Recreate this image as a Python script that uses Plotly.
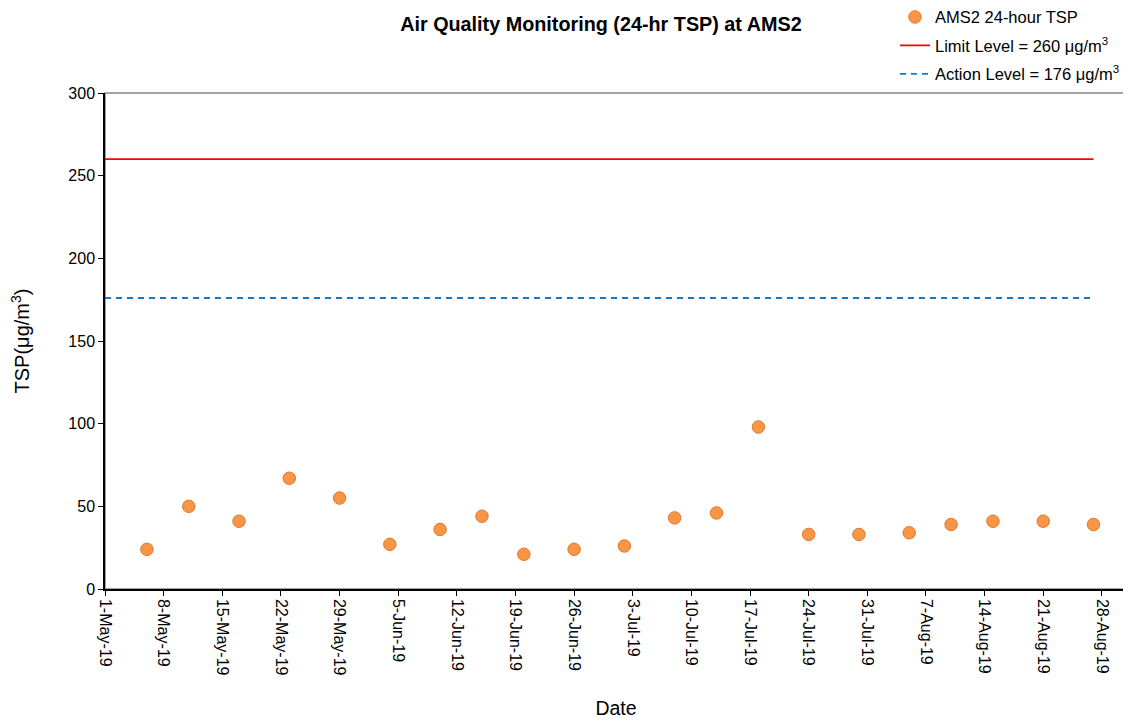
import plotly.graph_objects as go

dates = ["2019-05-06", "2019-05-11", "2019-05-17", "2019-05-23", "2019-05-29",
         "2019-06-04", "2019-06-10", "2019-06-15", "2019-06-20", "2019-06-26",
         "2019-07-02", "2019-07-08", "2019-07-13", "2019-07-18", "2019-07-24",
         "2019-07-30", "2019-08-05", "2019-08-10", "2019-08-15", "2019-08-21",
         "2019-08-27"]
tsp = [24, 50, 41, 67, 55, 27, 36, 44, 21, 24, 26, 43, 46, 98, 33, 33, 34, 39, 41, 41, 39]

limit_level = 260
action_level = 176
level_dates = ["2019-05-01", "2019-08-27"]

FONT = "Liberation Sans, Arial, sans-serif"

fig = go.Figure()
fig.add_trace(go.Scatter(
    x=dates, y=tsp, mode="markers", name="AMS2 24-hour TSP",
    legendgroup="a",
    marker=dict(size=12.5, color="#F79646", line=dict(color="#E3782C", width=1)),
))
fig.add_trace(go.Scatter(
    x=level_dates, y=[limit_level] * 2, mode="lines",
    name="Limit Level = 260 μg/m<sup>3</sup>", legendgroup="b",
    line=dict(color="#FF0000", width=1.8),
))
fig.add_trace(go.Scatter(
    x=level_dates, y=[action_level] * 2, mode="lines",
    name="Action Level = 176 μg/m<sup>3</sup>", legendgroup="c",
    line=dict(color="#1479CC", width=1.8, dash="6px,5px"),
))

# grey plot-area border (top/right)
fig.add_shape(type="rect", xref="paper", yref="paper", x0=0, x1=1, y0=0, y1=1,
              line=dict(color="#868686", width=1.5), layer="below")

# page body has an 8px margin, so the figure is sized/offset to compensate
fig.update_layout(
    width=1123, height=711,
    margin=dict(l=97, r=4, t=85, b=130, autoexpand=False),
    paper_bgcolor="white", plot_bgcolor="white",
    font=dict(family=FONT, size=16, color="black"),
    title=dict(text="<b>Air Quality Monitoring (24-hr TSP) at AMS2</b>",
               x=0.528, xanchor="center", y=0.9775, yanchor="middle",
               font=dict(family=FONT, size=19.8, color="black")),
    showlegend=True,
    legend=dict(x=0.773, xanchor="left", y=1.188, yanchor="top",
                bgcolor="rgba(0,0,0,0)", tracegroupgap=4,
                font=dict(family=FONT, size=16.5, color="black")),
    xaxis=dict(
        type="date", range=["2019-05-01", "2019-08-31"], automargin=False,
        tick0="2019-05-01", dtick=7 * 86400000, tickformat="%-d-%b-%y",
        tickangle=90, ticks="outside", ticklen=5, tickcolor="black",
        showline=True, linecolor="black", linewidth=1.5, showgrid=False,
        zeroline=False, tickfont=dict(family=FONT, size=16),
        title=dict(text="Date", font=dict(family=FONT, size=19.5), standoff=36),
    ),
    yaxis=dict(
        range=[0, 300], dtick=50, ticks="outside", ticklen=5, tickcolor="black",
        showline=True, linecolor="black", linewidth=1.5, showgrid=False,
        zeroline=False, tickfont=dict(family=FONT, size=16), automargin=False,
        title=dict(text="TSP(μg/m<sup>3</sup>)", font=dict(family=FONT, size=20), standoff=34),
    ),
)

fig.write_html("out.html")
